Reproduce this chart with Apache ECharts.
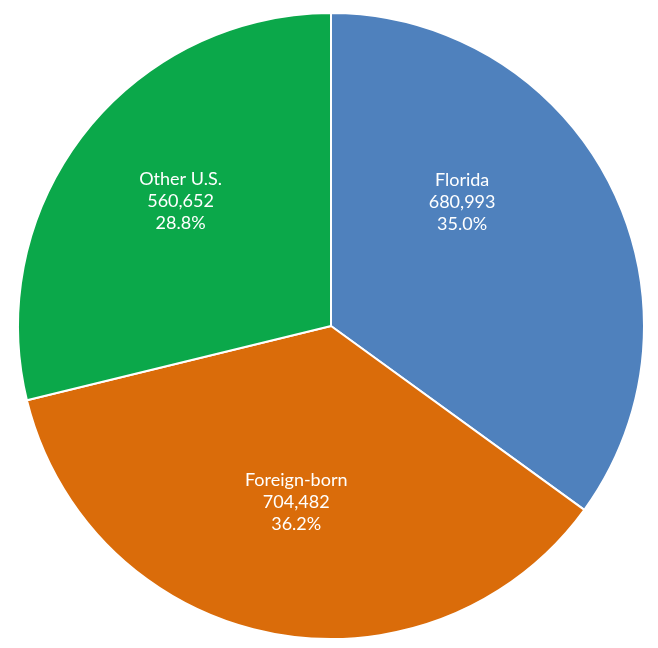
<!DOCTYPE html>
<html>
<head>
<meta charset="utf-8">
<script src="https://cdn.jsdelivr.net/npm/echarts@6/dist/echarts.min.js"></script>
<style>html,body{margin:0;padding:0;background:#fff}#c{width:658px;height:648px}</style>
</head>
<body>
<div id="c"></div>
<script>
var categories = ['Florida', 'Foreign-born', 'Other U.S.'];
var values = [680993, 704482, 560652];
var colors = ['#4F81BD', '#DA6C0A', '#0BA84A'];
var labelOffsets = [[-11, -51], [-4, 20], [-25, -26]];

var chart = echarts.init(document.getElementById('c'));
var data = categories.map(function (c, i) {
  return {
    name: c,
    value: values[i],
    itemStyle: { color: colors[i] },
    label: { offset: labelOffsets[i] }
  };
});
chart.setOption({
  animation: false,
  series: [{
    type: 'pie',
    center: [331, 326],
    radius: [0, 313],
    startAngle: 90,
    clockwise: true,
    itemStyle: { borderColor: '#fff', borderWidth: 2 },
    label: {
      show: true,
      position: 'inside',
      color: '#fff',
      fontFamily: 'Lato',
      fontSize: 18,
      lineHeight: 22,
      align: 'center',
      formatter: function (p) {
        return p.name + '\n' + p.value.toLocaleString('en-US') + '\n' + p.percent.toFixed(1) + '%';
      }
    },
    labelLine: { show: false },
    emphasis: { disabled: true },
    data: data
  }]
});
</script>
</body>
</html>
